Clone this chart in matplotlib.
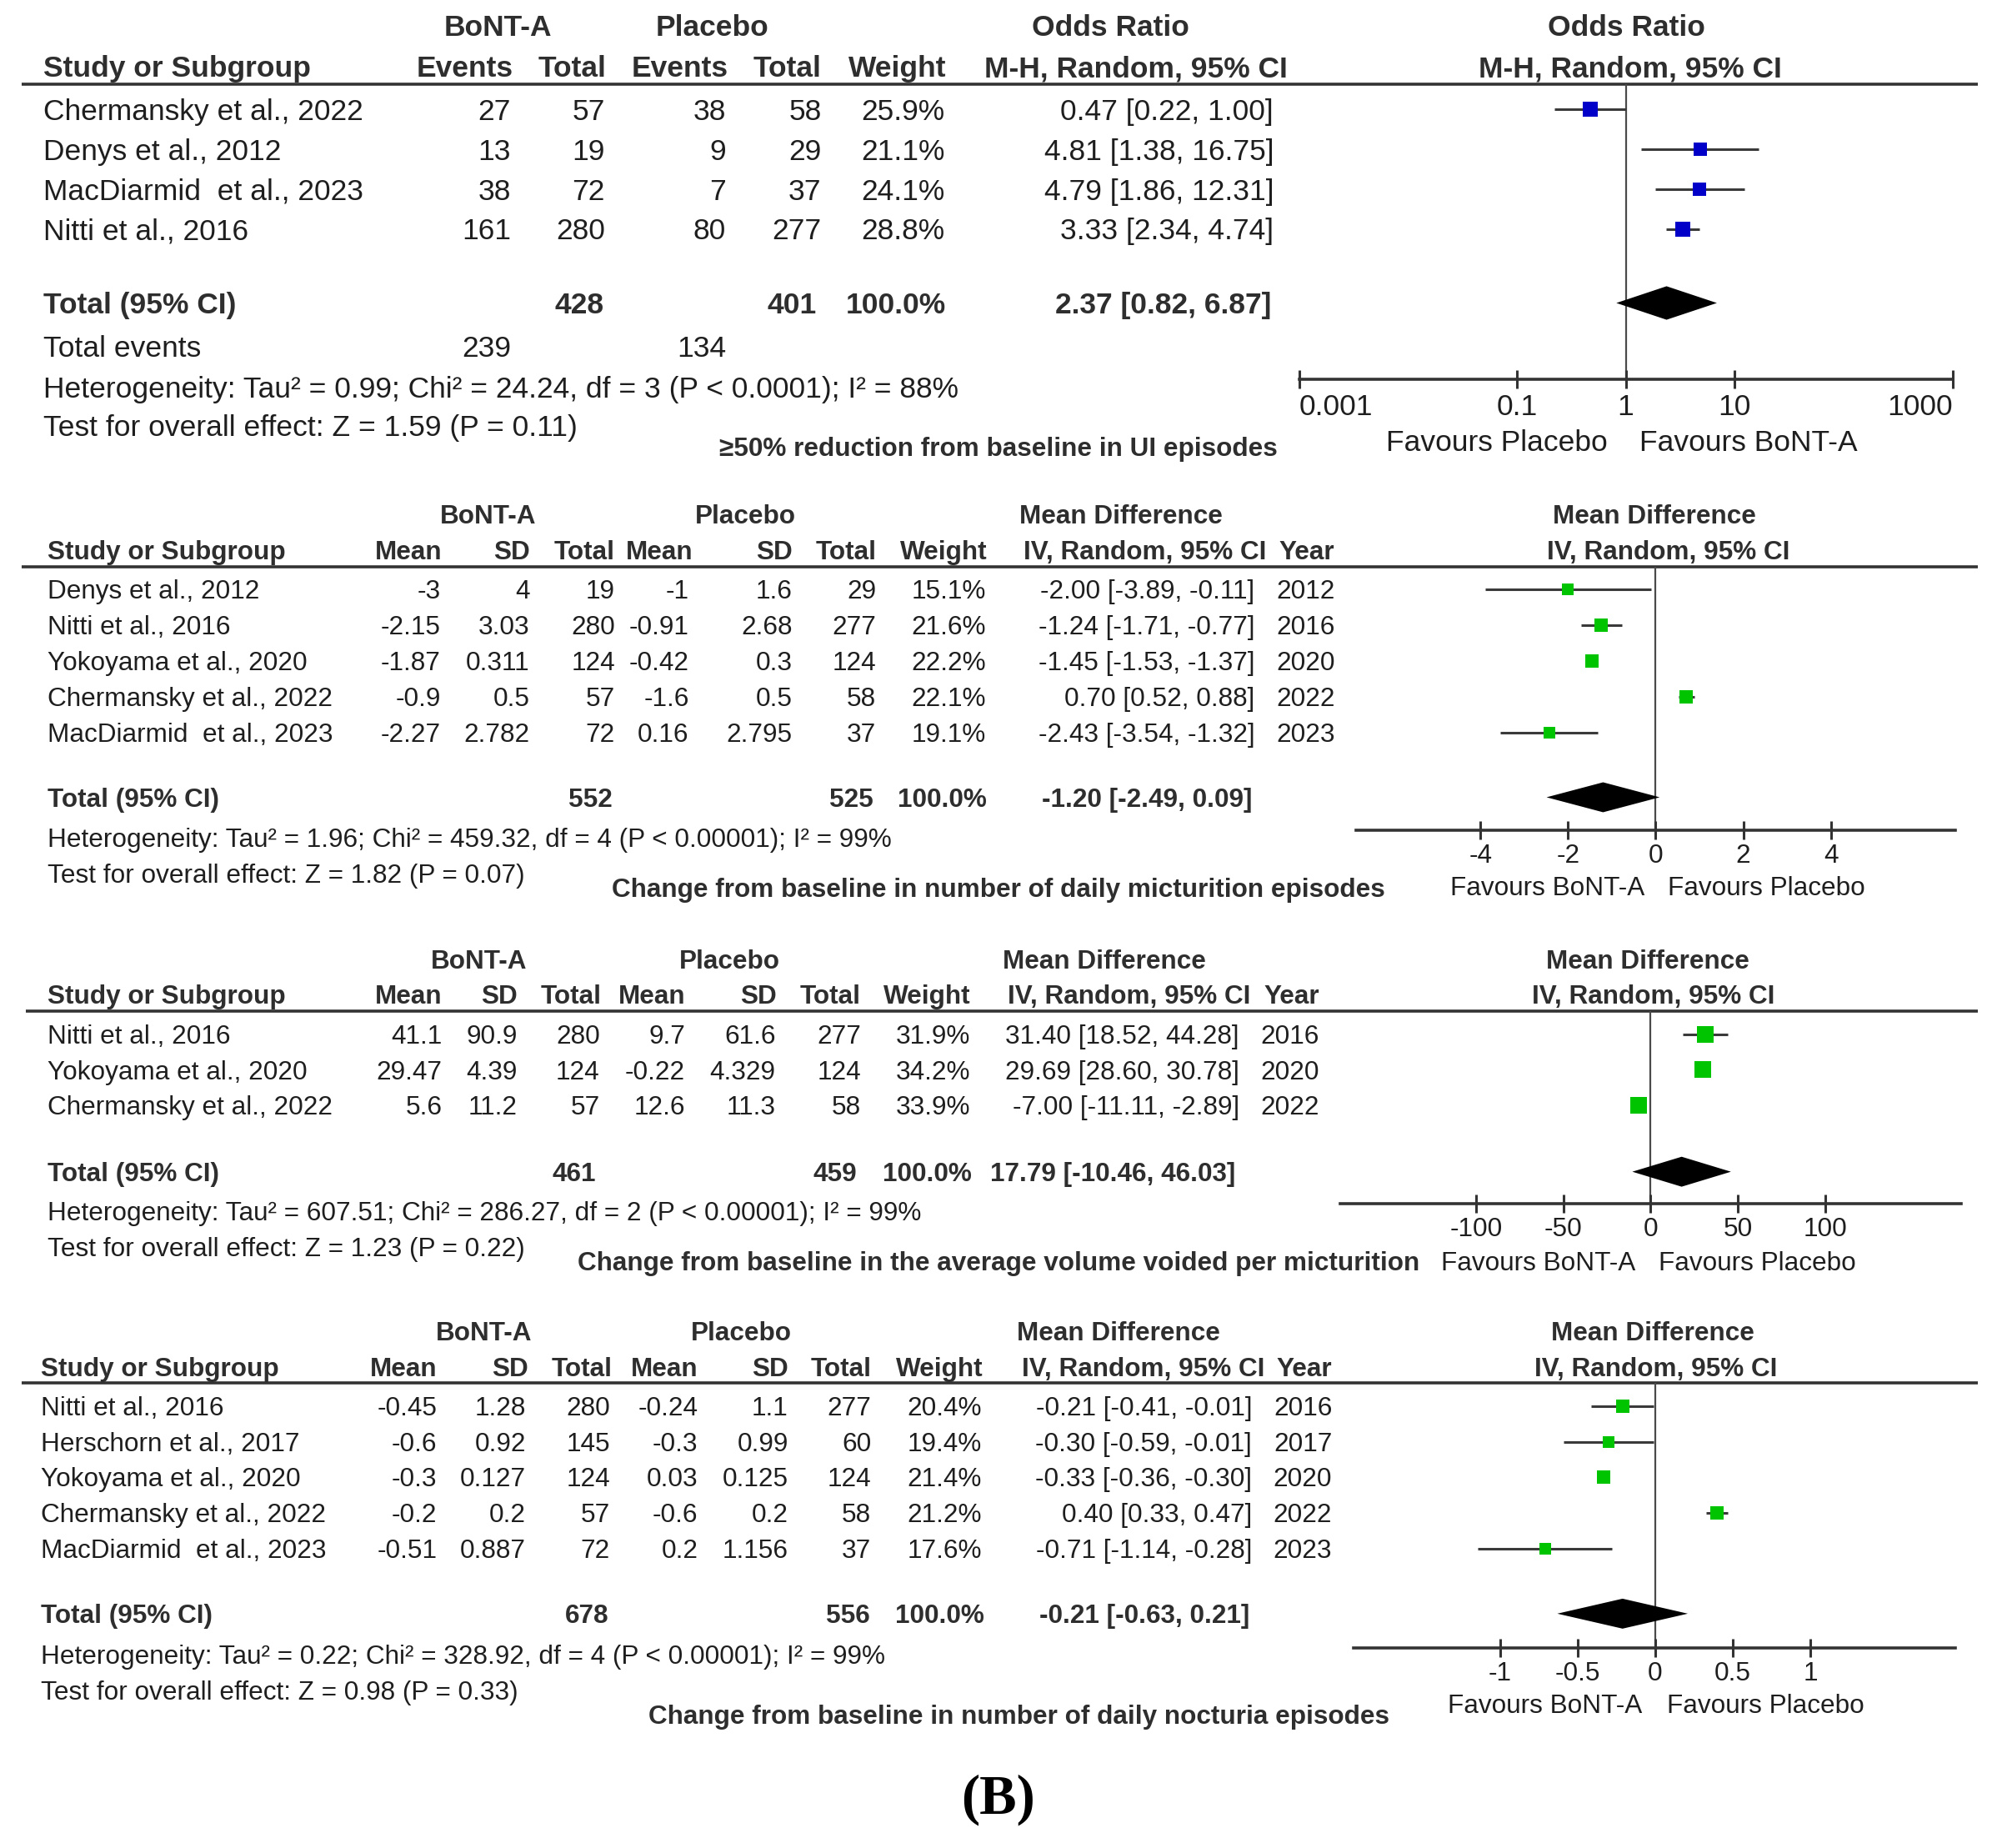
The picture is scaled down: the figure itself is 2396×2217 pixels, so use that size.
import numpy as np
import matplotlib
matplotlib.use("Agg")
import matplotlib.pyplot as plt
from matplotlib.ticker import NullLocator

plt.rcParams['font.family'] = ['Liberation Sans', 'DejaVu Sans']
plt.rcParams['axes.unicode_minus'] = False

# ---------------- DATA ----------------
# Panel 1: >=50% reduction from baseline in UI episodes (Odds Ratio)
p1_studies = ["Chermansky et al., 2022", "Denys et al., 2012", "MacDiarmid  et al., 2023", "Nitti et al., 2016"]
p1_events_b = [27, 13, 38, 161]
p1_total_b = [57, 19, 72, 280]
p1_events_p = [38, 9, 7, 80]
p1_total_p = [58, 29, 37, 277]
p1_weight = [25.9, 21.1, 24.1, 28.8]
p1_est = [0.47, 4.81, 4.79, 3.33]
p1_lo = [0.22, 1.38, 1.86, 2.34]
p1_hi = [1.00, 16.75, 12.31, 4.74]
p1_pooled = [2.37, 0.82, 6.87]
p1_het = "Heterogeneity: Tau\u00b2 = 0.99; Chi\u00b2 = 24.24, df = 3 (P < 0.0001); I\u00b2 = 88%"
p1_test = "Test for overall effect: Z = 1.59 (P = 0.11)"
p1_title = "\u226550% reduction from baseline in UI episodes"
p1_ticks = [0.001, 0.1, 1, 10, 1000]
p1_ticklabels = ["0.001", "0.1", "1", "10", "1000"]
p1_favours = ["Favours Placebo", "Favours BoNT-A"]

# Panel 2: daily micturition episodes (Mean Difference)
p2_studies = ["Denys et al., 2012", "Nitti et al., 2016", "Yokoyama et al., 2020", "Chermansky et al., 2022", "MacDiarmid  et al., 2023"]
p2_mean_b = [-3, -2.15, -1.87, -0.9, -2.27]
p2_sd_b = [4, 3.03, 0.311, 0.5, 2.782]
p2_total_b = [19, 280, 124, 57, 72]
p2_mean_p = [-1, -0.91, -0.42, -1.6, 0.16]
p2_sd_p = [1.6, 2.68, 0.3, 0.5, 2.795]
p2_total_p = [29, 277, 124, 58, 37]
p2_weight = [15.1, 21.6, 22.2, 22.1, 19.1]
p2_est = [-2.00, -1.24, -1.45, 0.70, -2.43]
p2_lo = [-3.89, -1.71, -1.53, 0.52, -3.54]
p2_hi = [-0.11, -0.77, -1.37, 0.88, -1.32]
p2_year = [2012, 2016, 2020, 2022, 2023]
p2_pooled = [-1.20, -2.49, 0.09]
p2_het = "Heterogeneity: Tau\u00b2 = 1.96; Chi\u00b2 = 459.32, df = 4 (P < 0.00001); I\u00b2 = 99%"
p2_test = "Test for overall effect: Z = 1.82 (P = 0.07)"
p2_title = "Change from baseline in number of daily micturition episodes"
p2_ticks = [-4, -2, 0, 2, 4]
p2_ticklabels = ["-4", "-2", "0", "2", "4"]

# Panel 3: average volume voided per micturition (Mean Difference)
p3_studies = ["Nitti et al., 2016", "Yokoyama et al., 2020", "Chermansky et al., 2022"]
p3_mean_b = [41.1, 29.47, 5.6]
p3_sd_b = [90.9, 4.39, 11.2]
p3_total_b = [280, 124, 57]
p3_mean_p = [9.7, -0.22, 12.6]
p3_sd_p = [61.6, 4.329, 11.3]
p3_total_p = [277, 124, 58]
p3_weight = [31.9, 34.2, 33.9]
p3_est = [31.40, 29.69, -7.00]
p3_lo = [18.52, 28.60, -11.11]
p3_hi = [44.28, 30.78, -2.89]
p3_year = [2016, 2020, 2022]
p3_pooled = [17.79, -10.46, 46.03]
p3_het = "Heterogeneity: Tau\u00b2 = 607.51; Chi\u00b2 = 286.27, df = 2 (P < 0.00001); I\u00b2 = 99%"
p3_test = "Test for overall effect: Z = 1.23 (P = 0.22)"
p3_title = "Change from baseline in the average volume voided per micturition"
p3_ticks = [-100, -50, 0, 50, 100]
p3_ticklabels = ["-100", "-50", "0", "50", "100"]

# Panel 4: daily nocturia episodes (Mean Difference)
p4_studies = ["Nitti et al., 2016", "Herschorn et al., 2017", "Yokoyama et al., 2020", "Chermansky et al., 2022", "MacDiarmid  et al., 2023"]
p4_mean_b = [-0.45, -0.6, -0.3, -0.2, -0.51]
p4_sd_b = [1.28, 0.92, 0.127, 0.2, 0.887]
p4_total_b = [280, 145, 124, 57, 72]
p4_mean_p = [-0.24, -0.3, 0.03, -0.6, 0.2]
p4_sd_p = [1.1, 0.99, 0.125, 0.2, 1.156]
p4_total_p = [277, 60, 124, 58, 37]
p4_weight = [20.4, 19.4, 21.4, 21.2, 17.6]
p4_est = [-0.21, -0.30, -0.33, 0.40, -0.71]
p4_lo = [-0.41, -0.59, -0.36, 0.33, -1.14]
p4_hi = [-0.01, -0.01, -0.30, 0.47, -0.28]
p4_year = [2016, 2017, 2020, 2022, 2023]
p4_pooled = [-0.21, -0.63, 0.21]
p4_het = "Heterogeneity: Tau\u00b2 = 0.22; Chi\u00b2 = 328.92, df = 4 (P < 0.00001); I\u00b2 = 99%"
p4_test = "Test for overall effect: Z = 0.98 (P = 0.33)"
p4_title = "Change from baseline in number of daily nocturia episodes"
p4_ticks = [-1, -0.5, 0, 0.5, 1]
p4_ticklabels = ["-1", "-0.5", "0", "0.5", "1"]

md_favours = ["Favours BoNT-A", "Favours Placebo"]
panel_label = "(B)"

# ---------------- STYLE / LAYOUT ----------------
W, H = 1568.0, 1451.0
TXT = "#1e1e1e"
HDR = "#2e2e2e"
LINE = "#333333"
BLUE = "#0000C8"
GREEN = "#00C400"
MS_K = 2.45  # marker size (pt) per sqrt(weight %)
YOFF = 2.0   # small vertical nudge for text

fig = plt.figure(figsize=(23.96, 22.17), dpi=100)
bg = fig.add_axes([0, 0, 1, 1])
bg.set_xlim(0, W)
bg.set_ylim(H, 0)
bg.axis("off")


def t(x, y, s, ha="left", fs=22.7, bold=False, color=None, **kw):
    bg.text(x, y + YOFF, s, ha=ha, va="center", fontsize=fs,
            fontweight="bold" if bold else "normal",
            color=color if color else (HDR if bold else TXT), **kw)


def fmt(v):
    return f"{v:g}"


def ci_str(e, l, h):
    return f"{e:.2f} [{l:.2f}, {h:.2f}]"


def forest(x0, x1, ytop, yaxis, y0, dy, est, lo, hi, w, pooled, color, xlim,
           ticks, ticklabels, null, fs, log=False, pad=3.0, total_gap=1.85):
    ax = fig.add_axes([x0 / W, 1 - yaxis / H, (x1 - x0) / W, (yaxis - ytop) / H])
    ax.patch.set_visible(False)
    if log:
        ax.set_xscale("log")
    ax.set_xlim(*xlim)
    ax.set_ylim((yaxis - y0) / dy, (ytop - y0) / dy)
    n = len(est)
    ys = np.arange(n)
    ax.axvline(null, color="#4a4a4a", lw=1.6, zorder=1)
    ax.hlines(ys, lo, hi, color="#3a3a3a", lw=2.2, zorder=2)
    for yi, e, wi in zip(ys, est, w):
        ax.plot([e], [yi], marker="s", ms=MS_K * np.sqrt(wi), color=color,
                mec=color, mew=0, linestyle="none", zorder=3)
    yt = n - 1 + total_gap
    h = 0.42
    pe, pl, ph = pooled
    ax.fill([pl, pe, ph, pe], [yt, yt - h, yt, yt + h], color="black", lw=0, zorder=4)
    for s in ("top", "left", "right"):
        ax.spines[s].set_visible(False)
    ax.spines["bottom"].set_linewidth(2.6)
    ax.spines["bottom"].set_color(LINE)
    ax.set_yticks([])
    ax.set_xticks(ticks, ticklabels)
    ax.xaxis.set_minor_locator(NullLocator())
    ax.tick_params(axis="x", direction="inout", length=16, width=2.2, color=LINE,
                   labelsize=fs, labelcolor=TXT, pad=pad)
    return ax


def hline(x0, x1, y):
    bg.plot([x0, x1], [y, y], color=LINE, lw=2.6, solid_capstyle="butt")


# ================= PANEL 1 =================
fs1 = 25.5
t(391, 20, "BoNT-A", "center", fs1, True)
t(559, 20, "Placebo", "center", fs1, True)
t(872, 20, "Odds Ratio", "center", fs1, True)
t(1277, 20, "Odds Ratio", "center", fs1, True)
hdr = [(34, "Study or Subgroup", "left"), (403, "Events", "right"), (476, "Total", "right"),
       (572, "Events", "right"), (645, "Total", "right"), (743, "Weight", "right"),
       (1011, "M-H, Random, 95% CI", "right"), (1280, "M-H, Random, 95% CI", "center")]
for x, s, ha in hdr:
    t(x, 52, s, ha, fs1, True)
hline(17, 1553, 66)
y0, dy = 86, 31.3
for i in range(len(p1_studies)):
    y = y0 + i * dy
    t(34, y, p1_studies[i], "left", fs1)
    t(401, y, str(p1_events_b[i]), "right", fs1)
    t(475, y, str(p1_total_b[i]), "right", fs1)
    t(570, y, str(p1_events_p[i]), "right", fs1)
    t(645, y, str(p1_total_p[i]), "right", fs1)
    t(742, y, f"{p1_weight[i]:.1f}%", "right", fs1)
    t(1000, y, ci_str(p1_est[i], p1_lo[i], p1_hi[i]), "right", fs1)
yT = 238
t(34, yT, "Total (95% CI)", "left", fs1, True)
t(474, yT, str(sum(p1_total_b)), "right", fs1, True)
t(641, yT, str(sum(p1_total_p)), "right", fs1, True)
t(743, yT, "100.0%", "right", fs1, True)
t(998, yT, ci_str(*p1_pooled), "right", fs1, True)
t(34, 272, "Total events", "left", fs1)
t(401, 272, str(sum(p1_events_b)), "right", fs1)
t(570, 272, str(sum(p1_events_p)), "right", fs1)
t(34, 304, p1_het, "left", fs1)
t(34, 334, p1_test, "left", fs1)
t(784, 351, p1_title, "center", 22.7, True)
ax1 = forest(1020, 1533, 66, 298, y0, dy, p1_est, p1_lo, p1_hi, p1_weight, p1_pooled, BLUE,
             (0.001, 1000), p1_ticks, p1_ticklabels, 1, fs1, log=True, pad=4.0,
             total_gap=(238 - 180) / dy)
labs = ax1.get_xticklabels()
labs[0].set_ha("left")
labs[-1].set_ha("right")
t(1175, 346, p1_favours[0], "center", fs1)
t(1373, 346, p1_favours[1], "center", fs1)


# ================= MEAN DIFFERENCE PANELS =================
def md_panel(L, studies, mb, sb, tb, mp, sp, tp, wt, est, lo, hi, yr, pooled, het, test, title,
             ticks, ticklabels, xlim):
    fs = 22.7
    yh1, yh2 = L["yh"]
    c = L["grp"]
    t(c[0], yh1, "BoNT-A", "center", fs, True)
    t(c[1], yh1, "Placebo", "center", fs, True)
    t(c[2], yh1, "Mean Difference", "center", fs, True)
    t(c[3], yh1, "Mean Difference", "center", fs, True)
    names = ["Mean", "SD", "Total", "Mean", "SD", "Total", "Weight", "IV, Random, 95% CI", "Year"]
    t(L["x0"], yh2, "Study or Subgroup", "left", fs, True)
    for x, s in zip(L["hdr"], names):
        t(x, yh2, s, "right", fs, True)
    t(L["fhdr"], yh2, "IV, Random, 95% CI", "center", fs, True)
    hline(L["line_x"][0], L["line_x"][1], L["line"])
    y0, dy = L["y0"], 28.0
    cols = L["cols"]
    for i in range(len(studies)):
        y = y0 + i * dy
        vals = [fmt(mb[i]), fmt(sb[i]), str(tb[i]), fmt(mp[i]), fmt(sp[i]), str(tp[i]),
                f"{wt[i]:.1f}%", ci_str(est[i], lo[i], hi[i]), str(yr[i])]
        t(L["x0"], y, studies[i], "left", fs)
        for x, v in zip(cols, vals):
            t(x, y, v, "right", fs)
    yT = L["total"]
    tc = L["tcols"]
    t(L["x0"], yT, "Total (95% CI)", "left", fs, True)
    t(tc[0], yT, str(sum(tb)), "right", fs, True)
    t(tc[1], yT, str(sum(tp)), "right", fs, True)
    t(tc[2], yT, "100.0%", "right", fs, True)
    t(tc[3], yT, ci_str(*pooled), "right", fs, True)
    t(L["x0"], L["het"], het, "left", fs)
    t(L["x0"], L["het"] + 28, test, "left", fs)
    t(L["title"][0], L["title"][1], title, "center", fs, True)
    ylast = y0 + (len(studies) - 1) * dy
    forest(L["fx"][0], L["fx"][1], L["line"], L["axis"], y0, dy, est, lo, hi, wt, pooled, GREEN,
           xlim, ticks, ticklabels, 0, fs, pad=3.5, total_gap=(yT - ylast) / dy)
    fy = L["fav"]
    t(fy[0], fy[2], md_favours[0], "center", fs)
    t(fy[1], fy[2], md_favours[1], "center", fs)


L2 = dict(yh=(404, 432), grp=(383, 585, 880, 1299), x0=37,
          hdr=[347, 416, 483, 544, 622, 688, 775, 994, 1048], fhdr=1310,
          line=445, line_x=(17, 1553), y0=463,
          cols=[346, 416, 483, 541, 622, 688, 774, 985, 1048],
          total=626, tcols=[481, 686, 775, 983], het=658, title=(784, 697),
          fx=(1065, 1535), axis=652, fav=(1215, 1387, 696))
md_panel(L2, p2_studies, p2_mean_b, p2_sd_b, p2_total_b, p2_mean_p, p2_sd_p, p2_total_p,
         p2_weight, p2_est, p2_lo, p2_hi, p2_year, p2_pooled, p2_het, p2_test, p2_title,
         p2_ticks, p2_ticklabels, (-6.83, 6.83))

L3 = dict(yh=(753, 781), grp=(376, 573, 867, 1294), x0=37,
          hdr=[347, 406, 472, 538, 610, 676, 762, 982, 1036], fhdr=1298,
          line=794, line_x=(20, 1553), y0=812,
          cols=[347, 406, 471, 538, 609, 676, 762, 973, 1036],
          total=920, tcols=[468, 673, 763, 970], het=951, title=(784, 990),
          fx=(1052, 1540), axis=945, fav=(1208, 1380, 990))
md_panel(L3, p3_studies, p3_mean_b, p3_sd_b, p3_total_b, p3_mean_p, p3_sd_p, p3_total_p,
         p3_weight, p3_est, p3_lo, p3_hi, p3_year, p3_pooled, p3_het, p3_test, p3_title,
         p3_ticks, p3_ticklabels, (-178, 178))

L4 = dict(yh=(1045, 1073), grp=(380, 582, 878, 1298), x0=32,
          hdr=[343, 415, 481, 548, 619, 684, 772, 993, 1046], fhdr=1300,
          line=1086, line_x=(17, 1553), y0=1104,
          cols=[343, 413, 479, 548, 619, 684, 771, 983, 1046],
          total=1267, tcols=[478, 683, 773, 981], het=1299, title=(800, 1346),
          fx=(1063, 1535), axis=1294, fav=(1213, 1386, 1338))
md_panel(L4, p4_studies, p4_mean_b, p4_sd_b, p4_total_b, p4_mean_p, p4_sd_p, p4_total_p,
         p4_weight, p4_est, p4_lo, p4_hi, p4_year, p4_pooled, p4_het, p4_test, p4_title,
         p4_ticks, p4_ticklabels, (-1.94, 1.93))

bg.text(784, 1413, panel_label, ha="center", va="center", fontsize=48, fontweight="bold",
        family=["Liberation Serif", "DejaVu Serif"], color="black")

fig.savefig("out.png", dpi=100, facecolor="white")
